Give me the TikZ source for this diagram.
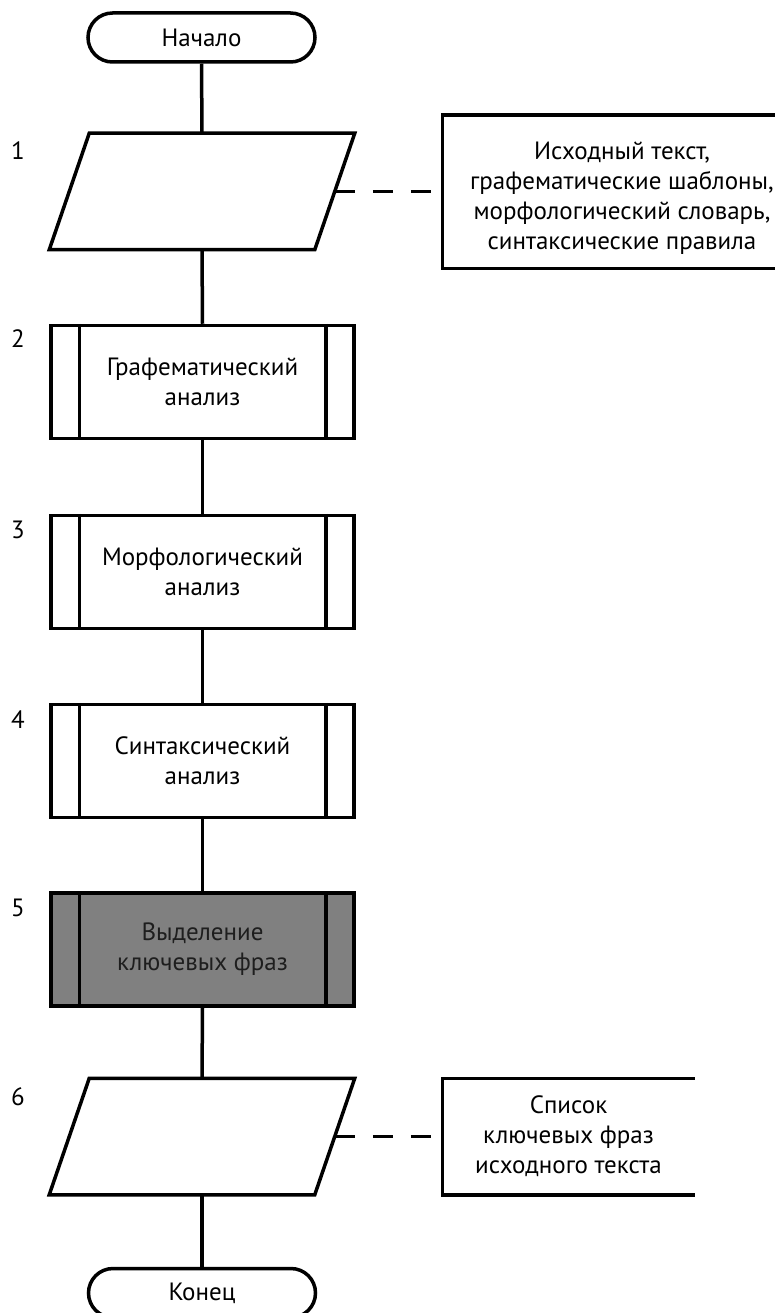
\documentclass[tikz,border=0pt]{standalone}
\usepackage{fontspec}
\setmainfont{PT Sans}
\usetikzlibrary{calc}
\definecolor{procgray}{RGB}{128,128,128}
\definecolor{darktext}{RGB}{30,30,30}
\begin{document}
\begin{tikzpicture}[x=1pt,y=-1pt,
  line width=3.5pt,
  every node/.style={font=\fontsize{25}{30}\selectfont, inner sep=0pt},
  term/.style={draw, rectangle, rounded corners=24.5pt, minimum width=227pt, minimum height=49pt},
  io/.style={rectangle, minimum width=222pt, minimum height=113pt},
  proc/.style={draw, rectangle, minimum width=303pt, minimum height=113pt, align=center},
  note/.style={rectangle, align=center},
  num/.style={anchor=center},
  aside/.style={dash pattern=on 20pt off 18pt},
]
\useasboundingbox (0,0) rectangle (775,1313);
\clip (0,0) rectangle (775,1313);

% terminals
\node[term] (start) at (201.5,37.5) {Начало};
\node[term] (stop) at (202,1293) {Конец};

% input / output blocks (parallelograms drawn around named frames)
\node[io] (p1) at (202,191.5) {};
\node[io] (p6) at (202,1136.5) {};
\foreach \p in {p1,p6} {
  \draw (\p.north west) -- ($(\p.north east)+(40,0)$) -- (\p.south east)
        -- ($(\p.south west)+(-40,0)$) -- cycle;
  \coordinate (\p r) at ($(\p.east)+(20,0)$);
}

% predefined processes
\node[proc] (b2) at (202.5,382) {Графематический\\анализ};
\node[proc] (b3) at (202.5,572) {Морфологический\\анализ};
\node[proc] (b4) at (202.5,761) {Синтаксический\\анализ};
\node[proc, fill=procgray, text=darktext] (b5) at (202.5,949.5) {Выделение\\ключевых фраз};
\foreach \b in {b2,b3,b4,b5} {
  \draw ($(\b.north west)+(30,0)$) -- ($(\b.south west)+(30,0)$);
  \draw ($(\b.north east)+(-30,0)$) -- ($(\b.south east)+(-30,0)$);
}

% comments: open frames with their texts
\node[note, minimum width=356pt, minimum height=150pt] (n1) at (622,192) {};
\node[note] (n1t) at ($(n1.center)+(0,6)$)
  {Исходный текст,\\графематические шаблоны,\\морфологический словарь,\\синтаксические правила};
\node[note, minimum width=249pt, minimum height=113pt] (n6) at (568.5,1136.5)
  {Список\\ключевых фраз\\исходного текста};
\foreach \n in {n1,n6} {
  \draw (\n.north east) -- (\n.north west) -- (\n.south west) -- (\n.south east);
}
\draw[aside] (p1r) -- (p1r -| n1.west);
\draw[aside] (p6r) -- (p6r -| n6.west);

% flow lines
\draw (start.south) -- (p1.north);
\draw (p1.south) -- (b2.north);
\draw (b2.south) -- (b3.north);
\draw (b3.south) -- (b4.north);
\draw (b4.south) -- (b5.north);
\draw (b5.south) -- (p6.north);
\draw (p6.south) -- (stop.north);

% step numbers
\node[num] (k1) at (18,151) {1};
\node[num] (k2) at (18,339) {2};
\node[num] (k3) at (18,530) {3};
\node[num] (k4) at (18,720) {4};
\node[num] (k5) at (18,908) {5};
\node[num] (k6) at (18,1097) {6};
\end{tikzpicture}
\end{document}
